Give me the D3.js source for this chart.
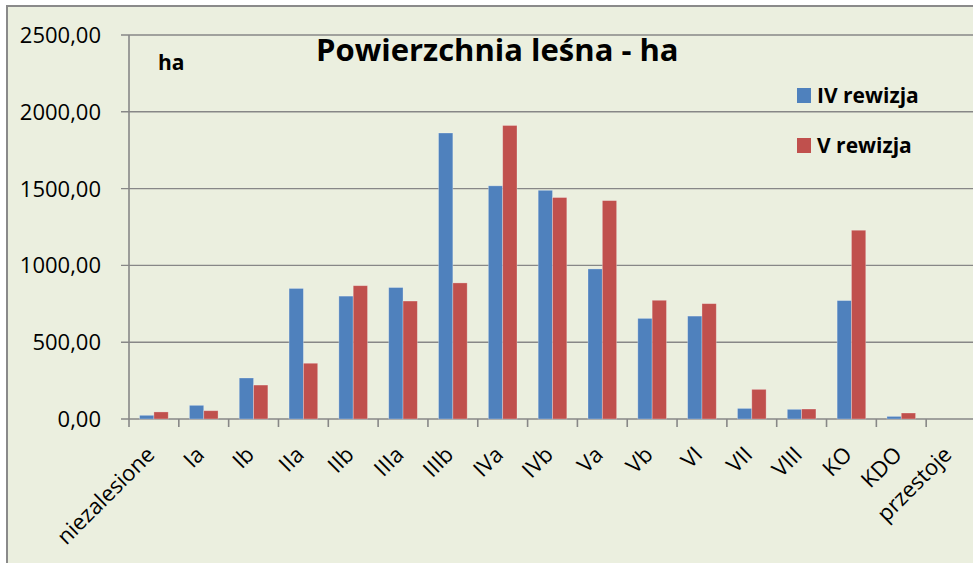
<!DOCTYPE html>
<html>
<head>
<meta charset="utf-8">
<script src="https://cdn.jsdelivr.net/npm/d3@7"></script>
<style>
  html, body { margin: 0; padding: 0; background: #fff; }
  svg { display: block; }
</style>
</head>
<body>
<svg id="chart"></svg>
<script>
// data
const categories = ['niezalesione', 'Ia', 'Ib', 'IIa', 'IIb', 'IIIa', 'IIIb', 'IVa', 'IVb',
  'Va', 'Vb', 'VI', 'VII', 'VIII', 'KO', 'KDO', 'przestoje'];
const seriesNames = ['IV rewizja', 'V rewizja'];
const rewizjaIV = [24, 89, 267, 850, 800, 856, 1862, 1518, 1489, 977, 655, 670, 69, 63, 771, 17, 0];
const rewizjaV = [46, 54, 221, 363, 868, 768, 886, 1911, 1442, 1422, 773, 751, 193, 65, 1229, 39, 0];
const yTicks = [0, 500, 1000, 1500, 2000, 2500];
const colors = ['#4F81BD', '#C0504D'];

const width = 973, height = 563;
const plot = { left: 129, right: 976, top: 35, bottom: 419 };

const svg = d3.select('#chart')
  .attr('width', width)
  .attr('height', height);

// chart area background + frame
svg.append('rect')
  .attr('x', 7).attr('y', 6)
  .attr('width', width + 10).attr('height', height + 10)
  .style('fill', '#EBEFDF')
  .style('stroke', '#8a8a8a')
  .style('stroke-width', 2);

const x = d3.scaleBand()
  .domain(categories)
  .range([plot.left, plot.right])
  .paddingInner(0.425)
  .paddingOuter(0.2125);

const xSub = d3.scaleBand()
  .domain(seriesNames)
  .range([0, x.bandwidth()]);

const y = d3.scaleLinear()
  .domain([0, 2500])
  .range([plot.bottom, plot.top]);

const fmt = v => d3.format('.2f')(v).replace('.', ',');

// gridlines
svg.append('g').selectAll('line')
  .data(yTicks)
  .enter().append('line')
  .attr('x1', plot.left - 8)
  .attr('x2', width)
  .attr('y1', d => y(d))
  .attr('y2', d => y(d))
  .style('stroke', '#878787')
  .style('stroke-width', 1.4);

// y axis line
svg.append('line')
  .attr('x1', plot.left).attr('x2', plot.left)
  .attr('y1', plot.top).attr('y2', plot.bottom + 8)
  .style('stroke', '#878787')
  .style('stroke-width', 1.6);

// y labels
svg.append('g').selectAll('text')
  .data(yTicks)
  .enter().append('text')
  .attr('x', 101)
  .attr('y', d => y(d))
  .attr('dy', '0.36em')
  .attr('text-anchor', 'end')
  .style('font-family', '"Open Sans", sans-serif')
  .style('font-size', '22px')
  .style('fill', '#000')
  .text(d => fmt(d));

// x tick marks at category boundaries
const step = x.step();
svg.append('g').selectAll('line')
  .data(categories)
  .enter().append('line')
  .attr('x1', (d, i) => plot.left + (i + 1) * step)
  .attr('x2', (d, i) => plot.left + (i + 1) * step)
  .attr('y1', plot.bottom)
  .attr('y2', plot.bottom + 8)
  .style('stroke', '#878787')
  .style('stroke-width', 1.6);

// bars
const series = [rewizjaIV, rewizjaV];
series.forEach((vals, s) => {
  svg.append('g').selectAll('rect')
    .data(categories)
    .enter().append('rect')
    .attr('x', d => x(d) + xSub(seriesNames[s]))
    .attr('y', (d, i) => y(vals[i]))
    .attr('width', xSub.bandwidth())
    .attr('height', (d, i) => plot.bottom - y(vals[i]))
    .style('fill', colors[s])
    .style('stroke', 'rgba(255,255,255,0.35)')
    .style('stroke-width', 0.8);
});

// x labels, rotated
svg.append('g').selectAll('text')
  .data(categories)
  .enter().append('text')
  .attr('transform', d => `translate(${x(d) + x.bandwidth() / 2 + 2},456) rotate(-45)`)
  .attr('text-anchor', 'end')
  .style('font-family', '"Open Sans", sans-serif')
  .style('font-size', '22px')
  .style('fill', '#000')
  .text(d => d);

// title and unit
svg.append('text')
  .attr('x', 316).attr('y', 61)
  .style('font-family', '"Open Sans", sans-serif')
  .style('font-weight', 'bold')
  .style('font-size', '31px')
  .text('Powierzchnia leśna - ha');

svg.append('text')
  .attr('x', 158).attr('y', 70)
  .style('font-family', '"Open Sans", sans-serif')
  .style('font-weight', 'bold')
  .style('font-size', '21px')
  .text('ha');

// legend
const legend = svg.append('g').selectAll('g')
  .data(seriesNames)
  .enter().append('g')
  .attr('transform', (d, i) => `translate(797,${88 + i * 50})`);

legend.append('rect')
  .attr('width', 14).attr('height', 15)
  .style('fill', (d, i) => colors[i]);

legend.append('text')
  .attr('x', 20).attr('y', 15)
  .style('font-family', '"Open Sans", sans-serif')
  .style('font-weight', 'bold')
  .style('font-size', '21px')
  .text(d => d);
</script>
</body>
</html>
